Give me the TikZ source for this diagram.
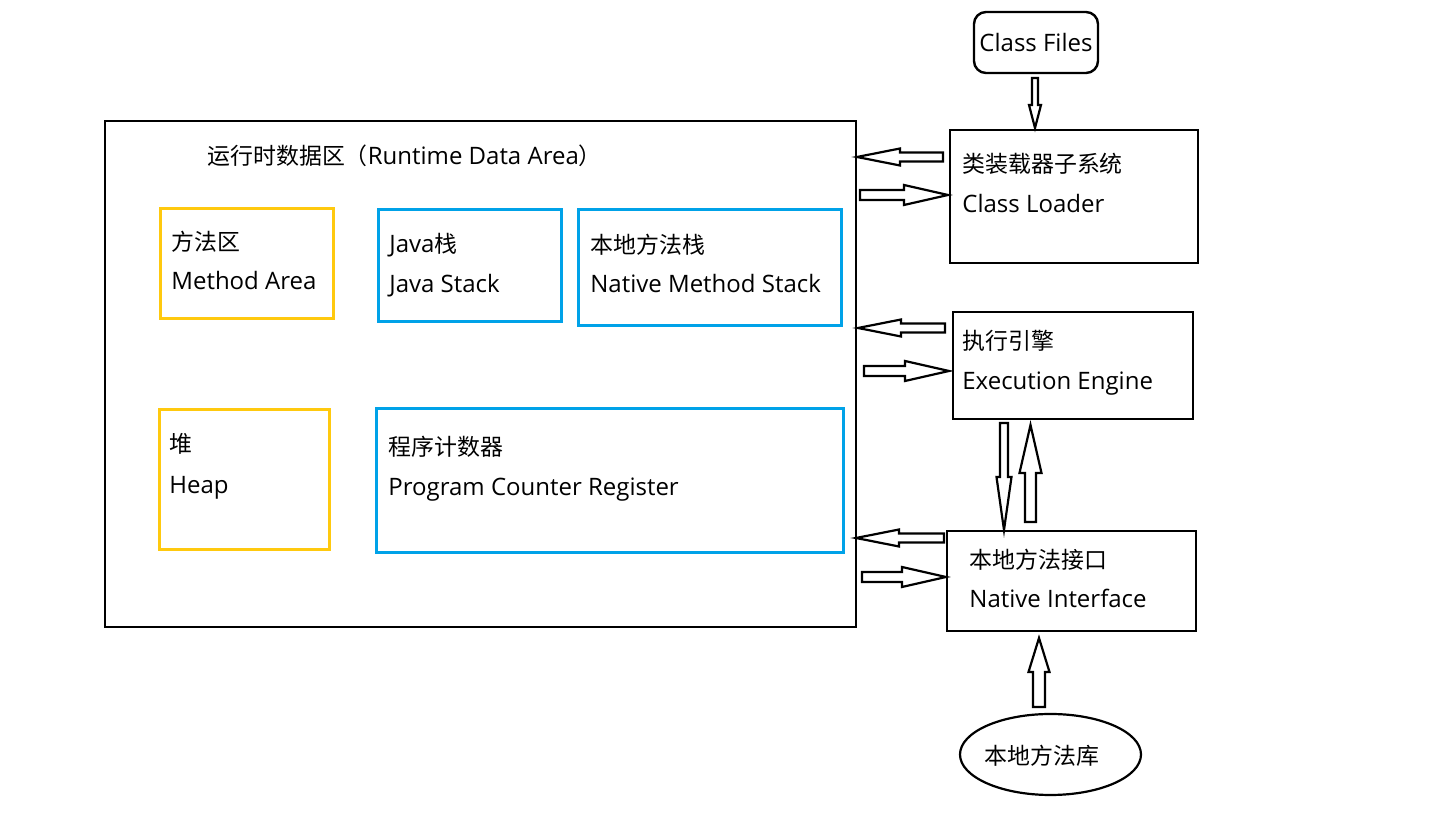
\documentclass[tikz,border=0pt]{standalone}
\usepackage{fontspec}
\setmainfont{Open Sans}
\newfontfamily\cjk[Scale=0.955]{Noto Sans CJK SC}
\usetikzlibrary{calc,shapes.geometric}
\definecolor{ybox}{HTML}{FFC90E}
\definecolor{bbox}{HTML}{00A2E8}
\tikzset{
  bx/.style 2 args={draw, line width=1.2pt, fill=none, inner sep=0pt,
    minimum width=#1*0.5pt, minimum height=#2*0.5pt},
  ybx/.style 2 args={bx={#1}{#2}, draw=ybox, line width=1.5pt},
  bbx/.style 2 args={bx={#1}{#2}, draw=bbox, line width=1.5pt},
  txt/.style={anchor=base west, inner sep=0pt, yshift=-1pt, font=\fontsize{12}{14}\selectfont},
  barrow/.style={draw, line width=1.1pt, fill=white, line join=miter},
}
\newcommand{\blockarr}[5]{%
  \draw[barrow] let \p1=(#1), \p2=(#2),
    \n1={atan2(\y2-\y1,\x2-\x1)}, \n2={veclen(\x2-\x1,\y2-\y1)} in
    [shift={(\p1)}, rotate=\n1]
    (0pt,{#3*0.5pt}) -- ({\n2*1pt-#5*0.5pt},{#3*0.5pt})
    -- ({\n2*1pt-#5*0.5pt},{#4*0.5pt}) -- ({\n2*1pt},0pt)
    -- ({\n2*1pt-#5*0.5pt},{-#4*0.5pt}) -- ({\n2*1pt-#5*0.5pt},{-#3*0.5pt})
    -- (0pt,{-#3*0.5pt}) -- cycle;}
\begin{document}
\begin{tikzpicture}[x=0.5pt, y=-0.5pt]
\useasboundingbox[fill=white] (0,0) rectangle (1448,838);

% runtime data area
\node[bx={751}{506}, line width=1.1pt] (rt) at (480.5,374) {};
\node[txt] (rtt) at (207,163) {{\cjk 运行时数据区（}Runtime Data Area{\cjk ）}};

\node[ybx={173}{110}] (ma) at (246.5,264) {};
\node[txt] (ma1) at (171,249) {\cjk 方法区};
\node[txt] (ma2) at (171,288) {Method Area};

\node[bbx={183}{112}] (js) at (469.5,266) {};
\node[txt] (js1) at (389,251) {Java{\cjk 栈}};
\node[txt] (js2) at (389,291) {Java Stack};

\node[bbx={263}{116}] (ns) at (709.5,268) {};
\node[txt] (ns1) at (590,252) {\cjk 本地方法栈};
\node[txt] (ns2) at (590,291) {Native Method Stack};

\node[ybx={170}{140}] (hp) at (244,480) {};
\node[txt] (hp1) at (169,451) {\cjk 堆};
\node[txt] (hp2) at (169,492) {Heap};

\node[bbx={467}{144}] (pc) at (609.5,481) {};
\node[txt] (pc1) at (388,454) {\cjk 程序计数器};
\node[txt] (pc2) at (388,494) {Program Counter Register};

% right column
\node[bx={124}{61}, rounded corners=6pt, font=\fontsize{12}{14}\selectfont] (cf) at (1036,42.5) {Class Files};

\node[bx={248}{133}] (cl) at (1074,196.5) {};
\node[txt] (cl1) at (962,171) {\cjk 类装载器子系统};
\node[txt] (cl2) at (962,211) {Class Loader};

\node[bx={240}{107}] (ee) at (1073,365.5) {};
\node[txt] (ee1) at (962,348) {\cjk 执行引擎};
\node[txt] (ee2) at (962,388) {Execution Engine};

\node[bx={249}{100}] (ni) at (1071.5,581) {};
\node[txt] (ni1) at (969,567) {\cjk 本地方法接口};
\node[txt] (ni2) at (969,606) {Native Interface};

\node[draw, ellipse, line width=1.1pt, inner sep=0pt, minimum width=90.5pt, minimum height=40.5pt] (lib) at (1050.5,754.5) {};
\node[txt, anchor=base] (lib1) at (1042,763) {\cjk 本地方法库};

% arrow end points
\coordinate (cfa) at (1035,78);   \coordinate (cla) at (1035,128);
\coordinate (l1s) at (943,157);   \coordinate (l1e) at (857,157);
\coordinate (r1s) at (860,195);   \coordinate (r1e) at (948,195);
\coordinate (l2s) at (945,328);   \coordinate (l2e) at (858,328);
\coordinate (r2s) at (864,371);   \coordinate (r2e) at (949,371);
\coordinate (l3s) at (944,538);   \coordinate (l3e) at (856,538);
\coordinate (r3s) at (862,577);   \coordinate (r3e) at (946,577);
\coordinate (eds) at (1004,423);  \coordinate (ede) at (1004,530);
\coordinate (nus) at (1030.5,522);\coordinate (nue) at (1030.5,425);
\coordinate (lus) at (1039,707);  \coordinate (lue) at (1039,638);

\blockarr{cfa}{cla}{3}{6}{23}
\blockarr{l1s}{l1e}{4.5}{8.5}{43}
\blockarr{r1s}{r1e}{5}{10}{44}
\blockarr{l2s}{l2e}{4.5}{8.5}{43}
\blockarr{r2s}{r2e}{5}{10}{44}
\blockarr{l3s}{l3e}{4.5}{8.5}{43}
\blockarr{r3s}{r3e}{5}{10}{44}
\blockarr{eds}{ede}{4}{7.5}{53}
\blockarr{nus}{nue}{5.5}{11}{48}
\blockarr{lus}{lue}{6}{10.5}{34}
\end{tikzpicture}
\end{document}
